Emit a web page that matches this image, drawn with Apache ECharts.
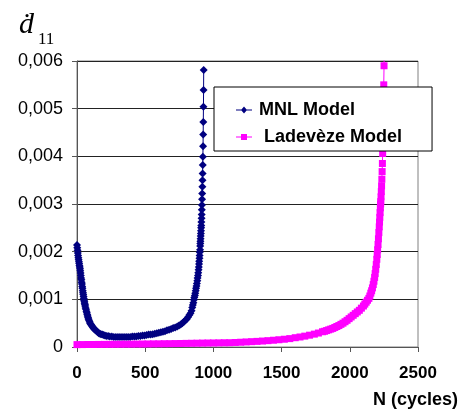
<!DOCTYPE html>
<html>
<head>
<meta charset="utf-8">
<script src="https://cdn.jsdelivr.net/npm/echarts@6/dist/echarts.min.js"></script>
<style>html,body{margin:0;padding:0;background:#fff}#c{width:463px;height:414px}</style>
</head>
<body>
<div id="c"></div>
<script>
// ---- data ----
const seriesNames = ['MNL Model', ' Ladevèze Model'];
const xTicks = [0, 500, 1000, 1500, 2000, 2500];
const yTickLabels = ['0', '0,001', '0,002', '0,003', '0,004', '0,005', '0,006'];

const mnlN = [0,2,4,6,8,10,12,14,16,18,20,22,24,26,28,30,32,34,36,38,40,42,44,46,48,50,52,54,56,58,60,63,66,69,72,75,78,81,84,88,92,96,100,105,110,115,120,126,132,138,145,152,160,168,176,185,195,205,215,228,240,255,270,285,300,315,330,345,360,375,390,405,420,435,450,465,480,495,510,525,540,555,570,585,600,615,630,645,660,675,690,705,720,735,748,760,772,784,795,805,815,824,832,840,845,849,853,857,860,864,867,870,873,876,879,882,884,887,889,891,893,895,896,898,899,900,902,903,904,905,906,907,908,909,910,911,912,913,914,915,916,917,918,919,920,921,922,923,924,925,926,927,928,929];
const mnlV = [0.00214,0.00208,0.00203,0.00197,0.00192,0.00187,0.00183,0.00179,0.00175,0.00171,0.00168,0.00164,0.00160,0.00155,0.00150,0.00145,0.00141,0.00136,0.00132,0.00127,0.00123,0.00118,0.00114,0.00110,0.00106,0.00102,0.00098,0.00095,0.00092,0.00089,0.00086,0.00082,0.00079,0.00075,0.00072,0.00068,0.00065,0.00062,0.00059,0.00056,0.00053,0.00050,0.00048,0.00046,0.00044,0.00042,0.00040,0.00038,0.00036,0.00035,0.00033,0.00031,0.00029,0.00028,0.00027,0.00026,0.00025,0.00024,0.00023,0.00023,0.00022,0.00022,0.00021,0.00021,0.00021,0.00021,0.00021,0.00021,0.00021,0.00021,0.00021,0.00022,0.00022,0.00022,0.00023,0.00023,0.00024,0.00024,0.00025,0.00026,0.00026,0.00027,0.00028,0.00029,0.00030,0.00031,0.00032,0.00033,0.00035,0.00036,0.00038,0.00040,0.00041,0.00043,0.00045,0.00047,0.00050,0.00053,0.00056,0.00059,0.00063,0.00067,0.00071,0.00076,0.00083,0.00088,0.00093,0.00099,0.00104,0.00108,0.00113,0.00118,0.00123,0.00128,0.00133,0.00139,0.00145,0.00150,0.00156,0.00162,0.00168,0.00174,0.00180,0.00186,0.00192,0.00199,0.00204,0.00212,0.00217,0.00222,0.00227,0.00233,0.00238,0.00244,0.00250,0.00255,0.00262,0.00270,0.00278,0.00288,0.00298,0.00310,0.00322,0.00336,0.00350,0.00364,0.00382,0.00399,0.00421,0.00446,0.00472,0.00504,0.00539,0.00581,0.00640];

const ladN = [0,40,80,120,160,200,240,280,320,360,400,440,480,520,560,600,640,680,720,760,800,840,880,920,960,1000,1040,1080,1120,1160,1200,1240,1280,1320,1360,1400,1440,1480,1520,1560,1600,1635,1670,1705,1740,1770,1800,1815,1830,1845,1860,1875,1890,1905,1920,1935,1950,1965,1980,1995,2010,2025,2040,2055,2070,2085,2100,2110,2120,2130,2140,2147,2154,2160,2166,2172,2177,2182,2186,2190,2194,2198,2201,2204,2207,2210,2213,2216,2218,2220,2222,2224,2226,2227,2229,2231,2233,2235,2237,2239,2241,2243,2245,2247,2249,2251,2253];
const ladV = [0.000050,0.000051,0.000052,0.000053,0.000054,0.000055,0.000056,0.000057,0.000058,0.000059,0.000060,0.000062,0.000063,0.000064,0.000066,0.000067,0.000069,0.000070,0.000072,0.000074,0.000076,0.000078,0.000080,0.000082,0.000084,0.000085,0.000087,0.000089,0.000090,0.000095,0.000100,0.000106,0.000112,0.000118,0.000125,0.000133,0.000142,0.000152,0.000163,0.000176,0.000195,0.000210,0.000228,0.000248,0.000270,0.000293,0.000320,0.000330,0.000345,0.000360,0.000375,0.000390,0.000410,0.000430,0.000450,0.000475,0.000500,0.000530,0.000560,0.000595,0.000630,0.000665,0.000700,0.000735,0.000770,0.000815,0.000860,0.000900,0.000940,0.000980,0.001020,0.001070,0.001130,0.001180,0.001240,0.001310,0.001380,0.001460,0.001540,0.001630,0.001730,0.001840,0.001940,0.002040,0.002150,0.002270,0.002400,0.002520,0.002620,0.002720,0.002820,0.002920,0.003000,0.003050,0.003150,0.003260,0.003380,0.003520,0.003680,0.003850,0.004060,0.004300,0.004600,0.005000,0.005500,0.005900,0.006500];

const zip = (a, b) => a.map((v, i) => [v, b[i]]);

const chart = echarts.init(document.getElementById('c'), null, {renderer: 'canvas'});
const FONT = '"Liberation Sans", Arial, sans-serif';
const SERIF = '"Liberation Serif", "DejaVu Serif", serif';
chart.setOption({
  animation: false,
  backgroundColor: '#fff',
  grid: {left: 77, right: 45, top: 61, bottom: 67, show: true, borderColor: '#808080', borderWidth: 1, backgroundColor: 'transparent'},
  legend: {
    orient: 'vertical',
    left: 214, top: 87,
    padding: [14, 30, 5, 22],
    itemWidth: 16, itemHeight: 14, itemGap: 9,
    backgroundColor: '#fff', borderColor: '#000', borderWidth: 1, borderRadius: 0,
    textStyle: {fontFamily: FONT, fontWeight: 'bold', fontSize: 18, color: '#000', padding: [0, 0, 0, 2]},
    data: [
      {name: seriesNames[0], icon: 'path://M0,6.5H16V7.5H0Z M5,7L8,3.5L11,7L8,10.5Z'},
      {name: seriesNames[1], icon: 'path://M0,6.5H16V7.5H0Z M5,4H11V10H5Z'}
    ]
  },
  xAxis: {
    type: 'value', min: xTicks[0], max: xTicks[xTicks.length - 1], interval: 500,
    axisLine: {show: true, lineStyle: {color: '#555', width: 1}},
    axisTick: {show: true, inside: false, length: 5, lineStyle: {color: '#555'}},
    axisLabel: {fontFamily: FONT, fontWeight: 'bold', fontSize: 17, color: '#000', margin: 18,
      formatter: (v) => String(v)},
    splitLine: {show: false}
  },
  yAxis: {
    type: 'value', min: 0, max: 0.006, interval: 0.001,
    axisLine: {show: true, lineStyle: {color: '#555', width: 1}},
    axisTick: {show: true, inside: false, length: 5, lineStyle: {color: '#555'}},
    axisLabel: {fontFamily: FONT, fontSize: 18, color: '#000', margin: 14,
      formatter: (v) => yTickLabels[Math.round(v / 0.001)]},
    splitLine: {show: true, lineStyle: {color: '#222', width: 1}}
  },
  series: [
    {
      name: seriesNames[0], type: 'line', data: zip(mnlN, mnlV),
      symbol: 'diamond', symbolSize: [8, 8], showAllSymbol: true, clip: true,
      lineStyle: {color: '#000080', width: 1}, itemStyle: {color: '#000080'}
    },
    {
      name: seriesNames[1], type: 'line', data: zip(ladN, ladV),
      symbol: 'rect', symbolSize: 7, showAllSymbol: true, clip: true,
      lineStyle: {color: '#FF00FF', width: 1}, itemStyle: {color: '#FF00FF'}
    }
  ],
  graphic: [
    {type: 'text', left: 19, top: 10, style: {text: 'ḋ', fontFamily: SERIF, fontStyle: 'italic', fontSize: 30, fill: '#000'}},
    {type: 'text', left: 38, top: 31, style: {text: '11', fontFamily: SERIF, fontSize: 17, fill: '#000'}},
    {type: 'text', right: 5, top: 391, style: {text: 'N (cycles)', fontFamily: FONT, fontWeight: 'bold', fontSize: 18, fill: '#000'}}
  ]
});
</script>
</body>
</html>
